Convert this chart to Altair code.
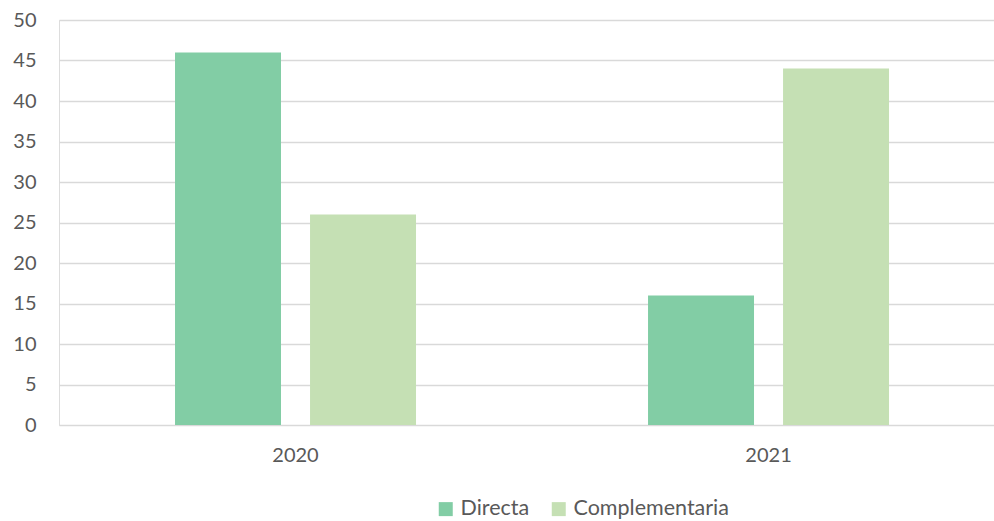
import altair as alt
import pandas as pd

years = ["2020", "2020", "2021", "2021"]
series = ["Directa", "Complementaria", "Directa", "Complementaria"]
values = [46, 26, 16, 44]
series_order = ["Directa", "Complementaria"]
series_colors = ["#82CDA5", "#C5E0B4"]
y_ticks = [0, 5, 10, 15, 20, 25, 30, 35, 40, 45, 50]

df = pd.DataFrame({"year": years, "series": series, "value": values})

FONT = "Lato"
TXT = "#595959"

chart = alt.Chart(df).mark_bar().encode(
    x=alt.X("year:N", title=None,
            scale=alt.Scale(paddingInner=0.4905, paddingOuter=0.2336, align=0.525),
            axis=alt.Axis(labelAngle=0, ticks=False, domain=False, labelPadding=20,
                          labelFontSize=20, labelColor=TXT, labelFont=FONT, grid=False)),
    xOffset=alt.XOffset("series:N", sort=series_order,
                        scale=alt.Scale(paddingInner=0.215, paddingOuter=0)),
    y=alt.Y("value:Q", title=None,
            scale=alt.Scale(domain=[0, 50], nice=False),
            axis=alt.Axis(values=y_ticks, ticks=False, domain=False, labelPadding=23,
                          labelFontSize=20, labelColor=TXT, labelFont=FONT,
                          gridColor="#D9D9D9", gridWidth=1.5)),
    color=alt.Color("series:N", sort=series_order, title=None,
                    scale=alt.Scale(domain=series_order, range=series_colors),
                    legend=alt.Legend(orient="none", direction="horizontal",
                                      legendX=376, legendY=478,
                                      symbolType="square", symbolSize=196,
                                      symbolStrokeWidth=0, labelFontSize=21.5,
                                      labelColor=TXT, labelFont=FONT,
                                      labelOffset=4, columnPadding=18)),
).properties(
    width=935, height=405,
    autosize=alt.AutoSizeParams(type="none"),
    padding={"left": 59, "top": 20, "right": 0, "bottom": 96},
).configure_view(stroke=None).configure(background="white")

chart.save("out.html", embed_options={"renderer": "svg", "actions": False})
